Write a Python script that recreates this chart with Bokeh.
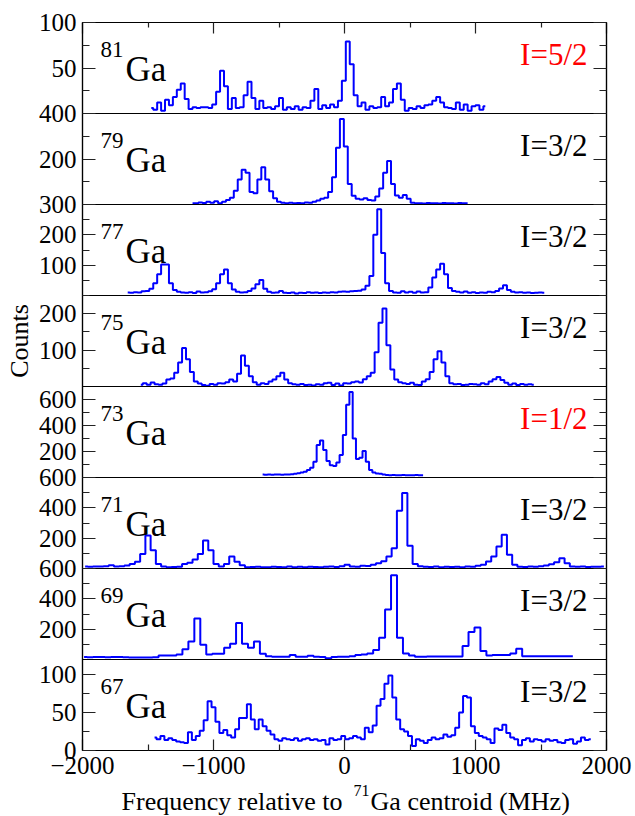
import numpy as np

from bokeh.plotting import figure
from bokeh.layouts import column
from bokeh.models import Range1d, FixedTicker, LinearAxis, Label, CustomJSTickFormatter
from bokeh.embed import file_html
from bokeh.resources import INLINE

# bin centres start / bin width (MHz) and counts for each isotope
ga81_start, ga81_step = -1475, 30
ga81_counts = [6, 4, 12, 3, 15, 9, 18, 26, 33, 16, 5, 7, 6, 7, 7, 6, 10, 24, 47, 30,
               5, 17, 6, 7, 20, 35, 17, 5, 14, 6, 7, 5, 8, 17, 4, 7, 5, 8, 4, 7,
               6, 14, 27, 5, 9, 6, 10, 7, 14, 36, 79, 54, 20, 8, 12, 4, 8, 6, 7, 18,
               8, 12, 27, 33, 15, 3, 6, 5, 8, 6, 9, 10, 14, 18, 12, 7, 6, 5, 12, 4,
               10, 3, 8, 9, 4, 8]

ga79_start, ga79_step = -1160, 30
ga79_counts = [6, 5, 9, 7, 12, 8, 14, 6, 12, 20, 30, 60, 110, 153, 140, 55, 50, 110, 164, 110,
               58, 27, 12, 8, 6, 8, 5, 7, 6, 9, 8, 12, 18, 25, 30, 55, 120, 250, 376, 255,
               90, 38, 25, 22, 27, 20, 18, 35, 70, 140, 191, 90, 40, 30, 42, 25, 8, 5, 6, 4,
               7, 5, 6, 4, 7, 5, 6, 4, 7, 5, 6]

ga77_start, ga77_step = -1655, 30
ga77_counts = [10, 9, 11, 10, 14, 15, 22, 40, 70, 102, 102, 40, 18, 12, 10, 9, 11, 8, 13, 10,
               11, 14, 21, 40, 70, 86, 40, 20, 12, 10, 11, 15, 23, 37, 51, 22, 12, 9, 10, 15,
               9, 8, 10, 7, 9, 8, 11, 9, 10, 8, 10, 9, 11, 10, 12, 13, 12, 14, 15, 16,
               20, 32, 64, 200, 284, 140, 40, 15, 10, 9, 14, 10, 12, 9, 13, 10, 11, 26, 59, 86,
               105, 70, 25, 15, 12, 10, 13, 9, 11, 8, 10, 9, 12, 11, 15, 23, 34, 18, 12, 10,
               11, 9, 10, 8, 9, 10, 9]

ga75_start, ga75_step = -1555, 30
ga75_counts = [5, 9, 5, 11, 6, 5, 8, 19, 22, 38, 66, 106, 75, 40, 14, 8, 4, 2, 7, 5,
               9, 8, 12, 19, 14, 35, 85, 57, 28, 12, 5, 9, 7, 14, 19, 28, 38, 19, 9, 6,
               5, 7, 4, 5, 3, 6, 5, 9, 10, 4, 8, 3, 9, 8, 12, 14, 11, 20, 28, 38,
               94, 175, 214, 113, 47, 19, 12, 9, 7, 10, 5, 4, 14, 20, 40, 75, 97, 66, 28, 9,
               6, 7, 4, 5, 7, 6, 5, 9, 6, 14, 20, 26, 18, 10, 5, 8, 4, 7, 5, 6, 5]

ga73_start, ga73_step = -625, 25
ga73_counts = [23, 22, 23, 22, 23, 23, 22, 23, 24, 25, 28, 33, 39, 45, 57, 75, 121, 250, 284, 211,
               126, 95, 88, 116, 173, 327, 559, 657, 300, 142, 152, 204, 121, 57, 39, 31, 28, 23, 20, 18,
               19, 18, 18, 19, 18, 18, 18, 19, 18, 18]

ga71_start, ga71_step = -1980, 40
ga71_counts = [13, 12, 14, 13, 15, 22, 14, 15, 20, 30, 45, 95, 218, 120, 30, 14, 8, 10, 12, 30,
               38, 60, 95, 185, 120, 30, 14, 30, 79, 45, 22, 8, 10, 12, 8, 9, 12, 10, 9, 13,
               8, 11, 9, 12, 10, 9, 11, 13, 10, 15, 24, 14, 12, 18, 16, 25, 35, 48, 79, 134,
               380, 497, 150, 30, 15, 12, 10, 13, 9, 12, 10, 11, 9, 13, 12, 18, 24, 46, 79, 145,
               222, 90, 25, 12, 10, 13, 11, 15, 20, 28, 42, 68, 35, 14, 11, 13, 10, 12, 11, 13]

ga69_start, ga69_step = -1988, 45.5
ga69_counts = [16, 15, 16, 16, 15, 16, 16, 15, 13, 13, 14, 13, 15, 27, 27, 27, 33, 67, 118, 271,
               98, 33, 38, 38, 78, 104, 240, 104, 78, 118, 38, 22, 18, 18, 18, 29, 18, 18, 24, 18,
               17, 9, 17, 18, 18, 22, 29, 33, 40, 62, 144, 329, 556, 144, 40, 27, 18, 18, 20, 20,
               20, 20, 20, 20, 89, 182, 211, 56, 27, 29, 29, 29, 40, 71, 22, 22, 22, 22, 22, 22,
               22, 22, 22]

ga67_start, ga67_step = -1450, 30
ga67_counts = [17, 15, 19, 14, 16, 14, 12, 11, 10, 24, 14, 19, 26, 40, 65, 57, 38, 23, 27, 20,
               17, 28, 43, 43, 61, 41, 28, 41, 32, 26, 21, 15, 13, 16, 15, 14, 16, 13, 15, 16,
               14, 15, 13, 14, 8, 16, 14, 15, 19, 15, 16, 19, 17, 15, 30, 24, 33, 59, 68, 88,
               99, 70, 41, 28, 25, 19, 6, 15, 13, 10, 14, 17, 15, 16, 21, 18, 20, 30, 50, 72,
               70, 32, 23, 19, 17, 15, 10, 29, 27, 34, 23, 17, 15, 7, 14, 16, 12, 15, 14, 12,
               15, 13, 14, 11, 10, 14, 15, 9, 12, 17, 14, 15]

masses = ["81", "79", "77", "75", "73", "71", "69", "67"]
spins = ["I=5/2", "I=3/2", "I=3/2", "I=3/2", "I=1/2", "I=3/2", "I=3/2", "I=3/2"]
spin_colors = ["#ff0000", "black", "black", "black", "#ff0000", "black", "black", "black"]
y_max = [100, 400, 300, 250, 700, 600, 600, 120]
y_major = [[50, 100], [200, 400], [100, 200, 300], [100, 200], [200, 400, 600],
           [200, 400, 600], [200, 400, 600], [0, 50, 100]]
y_minor = [[25, 75], [100, 300], [50, 150, 250], [50, 150, 250], [100, 300, 500],
           [100, 300, 500], [100, 300, 500], [25, 75]]
x_major = [-2000, -1000, 0, 1000, 2000]
x_minor = [-1500, -500, 500, 1500]

series = [(ga81_start, ga81_step, ga81_counts), (ga79_start, ga79_step, ga79_counts),
          (ga77_start, ga77_step, ga77_counts), (ga75_start, ga75_step, ga75_counts),
          (ga73_start, ga73_step, ga73_counts), (ga71_start, ga71_step, ga71_counts),
          (ga69_start, ga69_step, ga69_counts), (ga67_start, ga67_step, ga67_counts)]

FONT = "Liberation Serif"
TICK_COLOR = "#222222"
FRAME_H = 91
OVERLAP = 16
WIDTH = 633
LEFT, RIGHT = 82, 27

x_range = Range1d(-2000, 2000)
blank = CustomJSTickFormatter(code="return ''")


def tick_style(ax, major_in, minor_in):
    ax.major_tick_in = major_in
    ax.major_tick_out = 0
    ax.minor_tick_in = minor_in
    ax.minor_tick_out = 0
    ax.major_tick_line_color = TICK_COLOR
    ax.minor_tick_line_color = TICK_COLOR
    ax.major_tick_line_width = 1.2
    ax.minor_tick_line_width = 1.2
    ax.axis_line_color = "black"
    ax.axis_line_width = 1.2


def hide_labels(ax):
    ax.formatter = blank
    ax.major_label_text_font_size = "0px"
    ax.major_label_standoff = 0


def clear(p):
    p.border_fill_alpha = 0
    p.background_fill_alpha = 0
    p.xgrid.visible = False
    p.ygrid.visible = False


panels = []
n = len(masses)
for i in range(n):
    first = i == 0
    last = i == n - 1
    top = 22 if first else OVERLAP
    bottom = 40 if last else OVERLAP
    ymax = y_max[i]
    start, step, counts = series[i]
    freq = start + step * np.arange(len(counts))

    p = figure(width=WIDTH, height=top + FRAME_H + bottom,
               x_range=x_range, y_range=Range1d(0, ymax),
               x_axis_location="above" if first else ("below" if last else None),
               y_axis_location="left",
               min_border_left=LEFT, min_border_right=RIGHT,
               min_border_top=top, min_border_bottom=bottom,
               output_backend="svg", toolbar_location=None)
    if not first:
        p.margin = (-2 * OVERLAP, 0, 0, 0)
    clear(p)
    p.outline_line_color = "black"
    p.outline_line_width = 1.2

    # left axis with labels, right axis ticks only
    yt = FixedTicker(ticks=y_major[i], minor_ticks=y_minor[i])
    ay = p.yaxis[0]
    ay.ticker = yt
    tick_style(ay, 13, 7)
    ay.major_label_text_font = FONT
    ay.major_label_text_font_size = "25px"
    ay.major_label_text_color = "black"
    ay.major_label_standoff = 6
    if masses[i] == "75":
        ay.axis_label = "Counts"
        ay.axis_label_text_font = FONT
        ay.axis_label_text_font_size = "26px"
        ay.axis_label_text_font_style = "normal"
        ay.axis_label_text_color = "black"
        ay.axis_label_standoff = 2

    ar = LinearAxis(ticker=yt)
    tick_style(ar, 13, 7)
    hide_labels(ar)
    p.add_layout(ar, "right")

    xt = FixedTicker(ticks=x_major, minor_ticks=x_minor)
    if first or last:
        ax = p.xaxis[0]
        ax.ticker = xt
        if first:
            tick_style(ax, 11, 5)
            hide_labels(ax)
        else:
            tick_style(ax, 11, 6)
            ax.major_label_text_font = FONT
            ax.major_label_text_font_size = "25px"
            ax.major_label_text_color = "black"
            ax.major_label_standoff = 6

    p.step(x=freq, y=counts, mode="center", line_color="#0000ff", line_width=2)

    p.add_layout(Label(x=-1863, y=0.703 * ymax, text=masses[i], text_font=FONT,
                       text_color="black", text_font_size="23px",
                       text_baseline="alphabetic", text_align="left"))
    p.add_layout(Label(x=-1672, y=0.484 * ymax, text="Ga", text_font=FONT,
                       text_color="black", text_font_size="35px",
                       text_baseline="alphabetic", text_align="left"))
    p.add_layout(Label(x=1855, y=0.648 * ymax, text=spins[i], text_font=FONT,
                       text_color=spin_colors[i], text_font_size="31px",
                       text_baseline="alphabetic", text_align="right"))
    panels.append(p)

# strip under the last panel that carries the x axis title (with its superscript)
title = figure(width=WIDTH, height=39, x_range=x_range, y_range=Range1d(0, 39),
               x_axis_location=None, y_axis_location=None,
               min_border_left=LEFT, min_border_right=RIGHT,
               min_border_top=0, min_border_bottom=0,
               output_backend="svg", toolbar_location=None)
title.margin = (-14, 0, 0, 0)
clear(title)
title.outline_line_color = None
title.add_layout(Label(x=-15, y=14, text="Frequency relative to", text_font=FONT,
                       text_color="black", text_font_size="26px",
                       text_baseline="alphabetic", text_align="right"))
title.add_layout(Label(x=69, y=25, text="71", text_font=FONT,
                       text_color="black", text_font_size="16px",
                       text_baseline="alphabetic", text_align="left"))
title.add_layout(Label(x=199, y=14, text="Ga centroid (MHz)", text_font=FONT,
                       text_color="black", text_font_size="26px",
                       text_baseline="alphabetic", text_align="left"))
panels.append(title)

layout = column(*panels, spacing=0)
open("out.html", "w").write(file_html(layout, INLINE, "Ga hyperfine spectra"))
